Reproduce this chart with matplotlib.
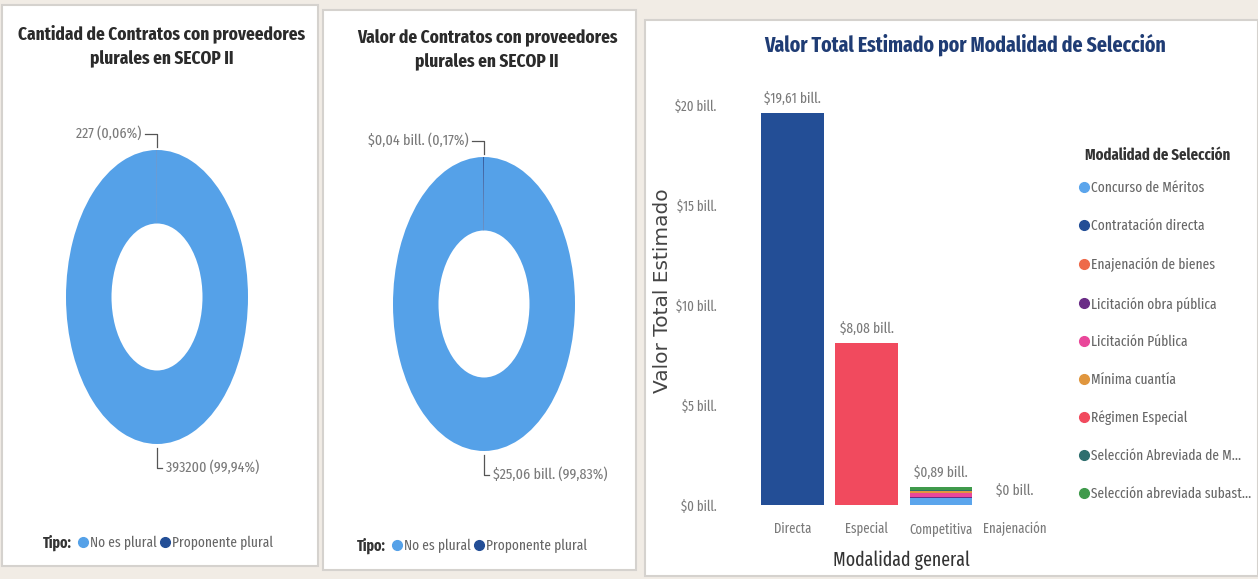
import matplotlib
matplotlib.use('Agg')
import matplotlib.pyplot as plt
from matplotlib.lines import Line2D
from matplotlib.patches import Rectangle

# data ------------------------------------------------------------
tipos = ['No es plural', 'Proponente plural']
cantidad = [393200, 227]
cantidad_pct = ['99,94%', '0,06%']
valor = [25.06, 0.04]
valor_pct = ['99,83%', '0,17%']

categorias = ['Directa', 'Especial', 'Competitiva', 'Enajenación']
modalidades = ['Concurso de Méritos', 'Contratación directa', 'Enajenación de bienes',
               'Licitación obra pública', 'Licitación Pública', 'Mínima cuantía',
               'Régimen Especial', 'Selección Abreviada de M...', 'Selección abreviada subast...']
concurso = [0, 0, 0.33, 0]
directa = [19.61, 0, 0, 0]
enajenacion = [0, 0, 0, 0.004]
lic_obra = [0, 0, 0.08, 0]
lic_publica = [0, 0, 0.20, 0]
minima = [0, 0, 0.10, 0]
regimen = [0, 8.08, 0, 0]
sel_menor = [0, 0, 0.06, 0]
sel_subasta = [0, 0, 0.12, 0]
series = [concurso, directa, enajenacion, lic_obra, lic_publica, minima, regimen, sel_menor, sel_subasta]
yticks = [0, 5, 10, 15, 20]

# styles ----------------------------------------------------------
narrow = 'Fira Sans Extra Condensed'
W, H = 1258, 579
light = '#55A1E8'
dark = '#234E96'
colors = ['#5BA5EC', '#234E96', '#EE6A4A', '#6A2C86', '#E9479A', '#E0963E',
          '#F14A5E', '#2F6E6E', '#3F9A4B']
gray = '#7A7A7A'


def fx(px):
    return px / W


def fy(py):
    return 1 - py / H


def box(x0, y0, x1, y1):
    return [fx(x0), fy(y1), fx(x1 - x0), (y1 - y0) / H]


fig = plt.figure(figsize=(W / 100, H / 100), dpi=100)
fig.patch.set_facecolor('#F1ECE5')

# white panels
for x0, y0, x1, y1 in [(2, 5, 318, 566), (323, 10, 636, 570), (645, 20, 1258, 576)]:
    fig.patches.append(Rectangle((fx(x0), fy(y1)), fx(x1 - x0), (y1 - y0) / H,
                                 transform=fig.transFigure, facecolor='white',
                                 edgecolor='#D5D2CE', linewidth=1.5, zorder=-5))


def donut(ax, vals, lab_top, lab_bot):
    ax.pie(vals, startangle=90, counterclock=False, colors=[light, dark],
           wedgeprops=dict(width=0.5, edgecolor='none'))
    ax.set_aspect('auto')
    ax.set_xlim(-1, 1)
    ax.set_ylim(-1, 1)
    ax.plot([0, 0, -0.13], [1.02, 1.11, 1.11], color='#555555', lw=0.9, clip_on=False)
    ax.text(-0.17, 1.11, lab_top, ha='right', va='center', color=gray,
            family=narrow, fontsize=11, clip_on=False)
    ax.plot([0, 0, 0.06], [-1.03, -1.16, -1.16], color='#555555', lw=0.9, clip_on=False)
    ax.text(0.1, -1.16, lab_bot, ha='left', va='center', color=gray,
            family=narrow, fontsize=11, clip_on=False)


def tipo_legend(x, y):
    fig.text(fx(x), fy(y), 'Tipo:', family=narrow, weight='bold', fontsize=11,
             color='#333333', va='center')
    hs = [Line2D([], [], marker='o', ls='', color=c, markersize=7) for c in [light, dark]]
    fig.legend(hs, tipos, loc='center left', bbox_to_anchor=(fx(x + 36), fy(y)),
               ncol=2, frameon=False, handlelength=0.6, handletextpad=0.15,
               columnspacing=0.3, borderaxespad=0, borderpad=0,
               prop=dict(family=narrow, size=10.5), labelcolor='#666666')


# panel 1
fig.text(fx(162), fy(46), 'Cantidad de Contratos con proveedores\nplurales en SECOP II',
         ha='center', va='center', family=narrow, weight='bold', fontsize=13.5,
         color='#2B2B2B', linespacing=1.5)
ax1 = fig.add_axes(box(66, 150, 248, 444))
donut(ax1, cantidad, f'{cantidad[1]} ({cantidad_pct[1]})', f'{cantidad[0]} ({cantidad_pct[0]})')
tipo_legend(43, 543)

# panel 2
fig.text(fx(487), fy(50), 'Valor de Contratos con proveedores\nplurales en SECOP II',
         ha='center', va='center', family=narrow, weight='bold', fontsize=13.5,
         color='#2B2B2B', linespacing=1.5)
ax2 = fig.add_axes(box(393, 157, 575, 451))
donut(ax2, valor,
      f'${valor[1]:.2f} bill. ({valor_pct[1]})'.replace('.', ',', 1),
      f'${valor[0]:.2f} bill. ({valor_pct[0]})'.replace('.', ',', 1))
tipo_legend(357, 546)

# panel 3
fig.text(fx(965), fy(45), 'Valor Total Estimado por Modalidad de Selección',
         ha='center', va='center', family=narrow, weight='bold', fontsize=15.5,
         color='#1F3C74')
ax3 = fig.add_axes(box(722, 85, 1052, 505))
x = list(range(len(categorias)))
bottom = [0] * len(categorias)
for vals, c in zip(series, colors):
    ax3.bar(x, vals, bottom=bottom, width=0.84, color=c)
    bottom = [b + v for b, v in zip(bottom, vals)]
for xi, tot in zip(x, bottom):
    lab = '$0 bill.' if round(tot, 2) == 0 else f'${tot:.2f} bill.'.replace('.', ',', 1)
    ax3.annotate(lab, (xi, tot), xytext=(0, 5), textcoords='offset points',
                 ha='center', va='bottom', family=narrow, fontsize=10.5, color=gray)
ax3.set_xlim(-0.95, 3.5)
ax3.set_ylim(0, 21)
ax3.set_yticks(yticks)
ax3.set_yticklabels([f'${t} bill.' for t in yticks], family=narrow, fontsize=10, color=gray)
ax3.set_xticks(x)
ax3.set_xticklabels(categorias, family=narrow, fontsize=10, color=gray)
ax3.tick_params(axis='x', length=0, pad=12)
ax3.tick_params(axis='y', length=0, pad=4)
for s in ax3.spines.values():
    s.set_visible(False)
ax3.set_xlabel('Modalidad general', family=narrow, fontsize=14, color='#333333')
ax3.xaxis.set_label_coords((901 - 722) / 330, -(560 - 505) / 420)
ax3.xaxis.label.set_va('center')
fig.text(fx(662), fy(291), 'Valor Total Estimado', rotation=90, ha='center', va='center',
         fontsize=14.5, color='#444444')

# legend of modalidades
fig.text(fx(1085), fy(155), 'Modalidad de Selección', family=narrow, weight='bold',
         fontsize=11.5, color='#333333', va='center')
hs = [Line2D([], [], marker='o', ls='', color=c, markersize=7) for c in colors]
fig.legend(hs, modalidades, loc='upper left', bbox_to_anchor=(fx(1080), fy(181)),
           frameon=False, handlelength=0.6, handletextpad=0.15, labelspacing=1.63,
           borderaxespad=0, borderpad=0, prop=dict(family=narrow, size=10.5),
           labelcolor='#666666')

fig.savefig('out.png', dpi=100, facecolor=fig.get_facecolor())
